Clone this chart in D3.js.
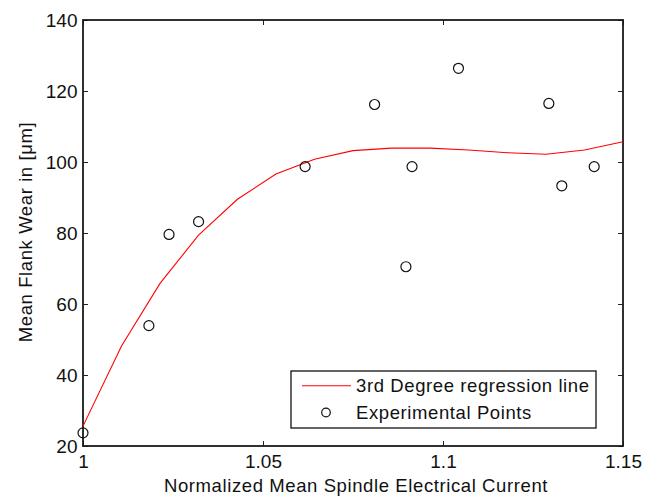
<!DOCTYPE html>
<html>
<head>
<meta charset="utf-8">
<script src="https://cdn.jsdelivr.net/npm/d3@7"></script>
<style>
  html, body { margin: 0; padding: 0; background: #fff; }
  svg { display: block; }
  text { font-family: "Liberation Sans", Arial, Helvetica, sans-serif; fill: #111; }
</style>
</head>
<body>
<script>
// Axis ticks
const currentTicks = [1, 1.05, 1.1, 1.15];
const wearTicks = [20, 40, 60, 80, 100, 120, 140];

// Cubic regression curve, sampled points
const fitCurrent = [1.0000, 1.0107, 1.0214, 1.0321, 1.0429, 1.0536, 1.0643, 1.0750,
                    1.0857, 1.0964, 1.1071, 1.1179, 1.1286, 1.1393, 1.1500];
const fitWear = [25.6, 48.2, 65.8, 79.4, 89.5, 96.6, 100.8, 103.2,
                 103.9, 103.9, 103.4, 102.6, 102.2, 103.4, 105.7];

// Measured points
const expCurrent = [1.0000, 1.0183, 1.0239, 1.0321, 1.0617, 1.0810,
                    1.0897, 1.0914, 1.1043, 1.1294, 1.1330, 1.1420];
const expWear = [23.7, 53.9, 79.6, 83.2, 98.7, 116.2,
                 70.5, 98.7, 126.4, 116.5, 93.3, 98.7];

const legendLabels = ["3rd Degree regression line", "Experimental Points"];

const W = 656, H = 496;
const m = { left: 83, top: 20, right: 33, bottom: 50 };
const iw = W - m.left - m.right, ih = H - m.top - m.bottom;

const svg = d3.select("body").append("svg").attr("width", W).attr("height", H);
const g = svg.append("g").attr("transform", `translate(${m.left},${m.top})`);

const x = d3.scaleLinear().domain([1, 1.15]).range([0, iw]);
const y = d3.scaleLinear().domain([20, 140]).range([ih, 0]);

const fmt = d => String(+d.toFixed(2));
const tickLen = 5;

// Axes on all four sides with inward ticks
function styleAxis(sel, showLabels) {
  sel.select(".domain").remove();
  sel.selectAll(".tick line").attr("stroke", "#222").attr("stroke-width", 1);
  if (!showLabels) sel.selectAll(".tick text").remove();
  else sel.selectAll(".tick text").style("font-size", "19px").attr("fill", "#111");
}

g.append("g").attr("transform", `translate(0,${ih})`)
  .call(d3.axisBottom(x).tickValues(currentTicks).tickFormat(fmt).tickSizeInner(-tickLen).tickSizeOuter(0).tickPadding(10))
  .call(s => styleAxis(s, true))
  .selectAll(".tick text").attr("y", 22.3).attr("dy", 0);

g.append("g")
  .call(d3.axisTop(x).tickValues(currentTicks).tickSizeInner(-tickLen).tickSizeOuter(0))
  .call(s => styleAxis(s, false));

g.append("g")
  .call(d3.axisLeft(y).tickValues(wearTicks).tickSizeInner(-tickLen).tickSizeOuter(0).tickPadding(6))
  .call(s => styleAxis(s, true))
  .selectAll(".tick text").attr("x", -5.5).attr("dy", "0.36em");

g.append("g").attr("transform", `translate(${iw},0)`)
  .call(d3.axisRight(y).tickValues(wearTicks).tickSizeInner(-tickLen).tickSizeOuter(0))
  .call(s => styleAxis(s, false));

// Box
g.append("rect").attr("x", 0).attr("y", 0).attr("width", iw).attr("height", ih)
  .attr("fill", "none").attr("stroke", "#1a1a1a").attr("stroke-width", 1.8);

// Regression curve
const fit = fitCurrent.map((c, i) => [c, fitWear[i]]);
g.append("path").datum(fit)
  .attr("fill", "none").attr("stroke", "#ff0000").attr("stroke-width", 1.1)
  .attr("d", d3.line().x(d => x(d[0])).y(d => y(d[1])));

// Experimental points
const pts = expCurrent.map((c, i) => [c, expWear[i]]);
g.selectAll("circle.pt").data(pts).join("circle").attr("class", "pt")
  .attr("cx", d => x(d[0])).attr("cy", d => y(d[1])).attr("r", 5)
  .attr("fill", "none").attr("stroke", "#111").attr("stroke-width", 1.2);

// Axis titles
svg.append("text").attr("x", m.left + iw / 2 + 3).attr("y", 492)
  .attr("text-anchor", "middle").style("font-size", "18.5px").style("letter-spacing", "0.6px")
  .text("Normalized Mean Spindle Electrical Current");

svg.append("text").attr("transform", `translate(31.5,${m.top + ih / 2 - 1}) rotate(-90)`)
  .attr("text-anchor", "middle").style("font-size", "18.5px").style("letter-spacing", "0.6px")
  .text("Mean Flank Wear in [\u03bcm]");

// Legend
const lg = svg.append("g");
lg.append("rect").attr("x", 291).attr("y", 371).attr("width", 305).attr("height", 57)
  .attr("fill", "#fff").attr("stroke", "#111").attr("stroke-width", 1.3);
lg.append("line").attr("x1", 302).attr("x2", 351).attr("y1", 385.7).attr("y2", 385.7)
  .attr("stroke", "#ff0000").attr("stroke-width", 1.1);
lg.append("circle").attr("cx", 326).attr("cy", 412.5).attr("r", 4.3)
  .attr("fill", "none").attr("stroke", "#111").attr("stroke-width", 1.2);
lg.selectAll("text.lab").data(legendLabels).join("text").attr("class", "lab")
  .attr("x", 356).attr("y", (d, i) => 392.3 + i * 27)
  .style("font-size", "18.5px").style("letter-spacing", "0.6px")
  .text(d => d);
</script>
</body>
</html>
